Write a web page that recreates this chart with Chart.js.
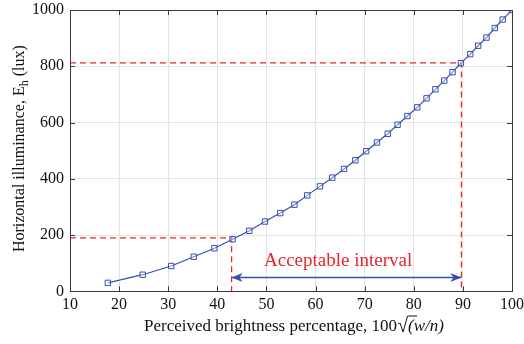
<!DOCTYPE html>
<html>
<head>
<meta charset="utf-8">
<script src="https://cdn.jsdelivr.net/npm/chart.js@4.4.1/dist/chart.umd.min.js"></script>
<style>
  html, body { margin: 0; padding: 0; background: #fff; }
  #wrap { width: 524px; height: 344px; position: relative; }
</style>
</head>
<body>
<div id="wrap"><canvas id="chart"></canvas></div>
<script>
// Measured curve: perceived brightness (%) vs horizontal illuminance (lux)
const brightness = [17.7, 24.8, 30.6, 35.2, 39.4, 43.1, 46.5, 49.7, 52.8, 55.7, 58.3,
    60.9, 63.4, 65.8, 68.1, 70.3, 72.5, 74.7, 76.7, 78.7, 80.7, 82.6, 84.4, 86.2,
    87.9, 89.6, 91.5, 93.1, 94.8, 96.5, 98.1, 100];
const illuminance = [30, 59, 90, 123, 153, 185, 215, 248, 278, 308, 341,
    373, 404, 435, 466, 498, 529, 560, 592, 623, 654, 686, 718, 749,
    779, 811, 843, 873, 902, 936, 966, 1000];

const xTicks = [10, 20, 30, 40, 50, 60, 70, 80, 90, 100];
const yTicks = [0, 200, 400, 600, 800, 1000];

// Red guide lines for the acceptable interval
const lowGuideX = [10, 42.9, 42.9];
const lowGuideY = [190, 190, 0];
const highGuideX = [10, 89.7, 89.7];
const highGuideY = [812, 812, 0];

// Double arrow and its label
const arrowX = [42.9, 89.7];
const arrowY = [49, 49];
const intervalLabel = 'Acceptable interval';
const intervalLabelAt = [64.6, 90];

const xTitle = 'Perceived brightness percentage, ';
const yTitle = ['Horizontal illuminance, E', 'h', ' (lux)'];

const BLUE = '#3450a8';
const RED = '#e8262b';
const SERIF = '"Liberation Serif", "Times New Roman", serif';

Chart.defaults.font.family = SERIF;
Chart.defaults.color = '#111';

const toPoints = (xs, ys) => xs.map((x, i) => ({ x: x, y: ys[i] }));

// Box, inward ticks, arrowheads, label and axis titles (MATLAB look)
const decorPlugin = {
    id: 'decor',
    afterDatasetsDraw(chart) {
        const { ctx, chartArea: a, scales } = chart;
        const sx = scales.x, sy = scales.y;
        ctx.save();

        // frame
        ctx.strokeStyle = '#3a3a3a';
        ctx.lineWidth = 1;
        ctx.strokeRect(Math.round(a.left) + 0.5, Math.round(a.top) + 0.5,
            Math.round(a.right - a.left), Math.round(a.bottom - a.top));

        // inward ticks
        ctx.beginPath();
        xTicks.forEach(v => {
            const px = Math.round(sx.getPixelForValue(v)) + 0.5;
            ctx.moveTo(px, a.bottom); ctx.lineTo(px, a.bottom - 5);
            ctx.moveTo(px, a.top); ctx.lineTo(px, a.top + 5);
        });
        yTicks.forEach(v => {
            const py = Math.round(sy.getPixelForValue(v)) + 0.5;
            ctx.moveTo(a.left, py); ctx.lineTo(a.left + 5, py);
            ctx.moveTo(a.right, py); ctx.lineTo(a.right - 5, py);
        });
        ctx.stroke();

        // arrowheads on the interval arrow
        const meta = chart.getDatasetMeta(3);
        const p0 = meta.data[0], p1 = meta.data[1];
        const head = (x, y, dir) => {
            ctx.beginPath();
            ctx.moveTo(x, y);
            ctx.lineTo(x - dir * 11, y - 4.5);
            ctx.lineTo(x - dir * 8, y);
            ctx.lineTo(x - dir * 11, y + 4.5);
            ctx.closePath();
            ctx.fill();
        };
        ctx.fillStyle = BLUE;
        head(p0.x, p0.y, -1);
        head(p1.x, p1.y, 1);

        // interval label
        ctx.fillStyle = RED;
        ctx.font = '19px ' + SERIF;
        ctx.textAlign = 'center';
        ctx.textBaseline = 'alphabetic';
        ctx.fillText(intervalLabel, sx.getPixelForValue(intervalLabelAt[0]),
            sy.getPixelForValue(intervalLabelAt[1]));

        // x title with sqrt(w/n)
        ctx.fillStyle = '#111';
        ctx.textAlign = 'left';
        const base = 331;
        const main = xTitle + '100';
        const rootBody = '(w/n)';
        ctx.font = '17px ' + SERIF;
        const wMain = ctx.measureText(main).width;
        const wRoot = 11;
        ctx.font = 'italic 17px ' + SERIF;
        const wBody = ctx.measureText(rootBody).width;
        const total = wMain + wRoot + wBody;
        let x0 = (a.left + a.right) / 2 - total / 2 + 3;
        ctx.font = '17px ' + SERIF;
        ctx.fillText(main, x0, base);
        x0 += wMain;
        ctx.strokeStyle = '#111';
        ctx.lineWidth = 1;
        ctx.beginPath();
        ctx.moveTo(x0 + 1, base - 7);
        ctx.lineTo(x0 + 3, base - 8);
        ctx.lineTo(x0 + 6, base + 1);
        ctx.lineTo(x0 + 10.5, base - 15);
        ctx.lineTo(x0 + 11 + wBody * 0.25, base - 15);
        ctx.stroke();
        ctx.font = 'italic 17px ' + SERIF;
        ctx.fillText(rootBody, x0 + wRoot, base);

        // y title, rotated, with subscript h
        ctx.save();
        ctx.translate(24, (a.top + a.bottom) / 2 - 2);
        ctx.rotate(-Math.PI / 2);
        ctx.font = '16px ' + SERIF;
        const w1 = ctx.measureText(yTitle[0]).width;
        ctx.font = '12px ' + SERIF;
        const w2 = ctx.measureText(yTitle[1]).width;
        ctx.font = '16px ' + SERIF;
        const w3 = ctx.measureText(yTitle[2]).width;
        let yx = -(w1 + w2 + w3) / 2;
        ctx.textAlign = 'left';
        ctx.fillText(yTitle[0], yx, 0);
        yx += w1;
        ctx.font = '12px ' + SERIF;
        ctx.fillText(yTitle[1], yx, 4);
        yx += w2;
        ctx.font = '16px ' + SERIF;
        ctx.fillText(yTitle[2], yx, 0);
        ctx.restore();

        ctx.restore();
    }
};

new Chart(document.getElementById('chart'), {
    type: 'scatter',
    data: {
        datasets: [
            {
                data: toPoints(brightness, illuminance),
                showLine: true,
                borderColor: BLUE,
                borderWidth: 1.2,
                pointStyle: 'rect',
                pointRadius: 3.8,
                pointBorderWidth: 1,
                pointBorderColor: BLUE,
                pointBackgroundColor: 'rgba(255,255,255,0.35)',
                order: 1
            },
            {
                data: toPoints(lowGuideX, lowGuideY),
                showLine: true,
                borderColor: RED,
                borderWidth: 1.3,
                borderDash: [6, 4],
                pointRadius: 0,
                order: 2
            },
            {
                data: toPoints(highGuideX, highGuideY),
                showLine: true,
                borderColor: RED,
                borderWidth: 1.3,
                borderDash: [6, 4],
                pointRadius: 0,
                order: 2
            },
            {
                data: toPoints(arrowX, arrowY),
                showLine: true,
                borderColor: BLUE,
                borderWidth: 1.5,
                pointRadius: 0,
                order: 3
            }
        ]
    },
    options: {
        animation: false,
        responsive: true,
        maintainAspectRatio: false,
        layout: {
            padding: { left: 26, right: 0, top: 0, bottom: 25.5 }
        },
        scales: {
            x: {
                type: 'linear',
                min: 10,
                max: 100,
                afterBuildTicks: axis => { axis.ticks = xTicks.map(v => ({ value: v })); },
                afterFit: axis => { axis.paddingRight = 12; axis.paddingLeft = 0; },
                grid: { color: '#e4e4e4', drawTicks: false },
                border: { display: false },
                ticks: { padding: 4, font: { size: 16 }, maxRotation: 0, callback: v => String(v) }
            },
            y: {
                min: 0,
                max: 1000,
                afterBuildTicks: axis => { axis.ticks = yTicks.map(v => ({ value: v })); },
                afterFit: axis => { axis.paddingTop = 10; axis.paddingBottom = 0; },
                grid: { color: '#e4e4e4', drawTicks: false },
                border: { display: false },
                ticks: { padding: 6, font: { size: 16 }, callback: v => String(v) }
            }
        },
        plugins: {
            legend: { display: false },
            tooltip: { enabled: false }
        }
    },
    plugins: [decorPlugin]
});
</script>
</body>
</html>
